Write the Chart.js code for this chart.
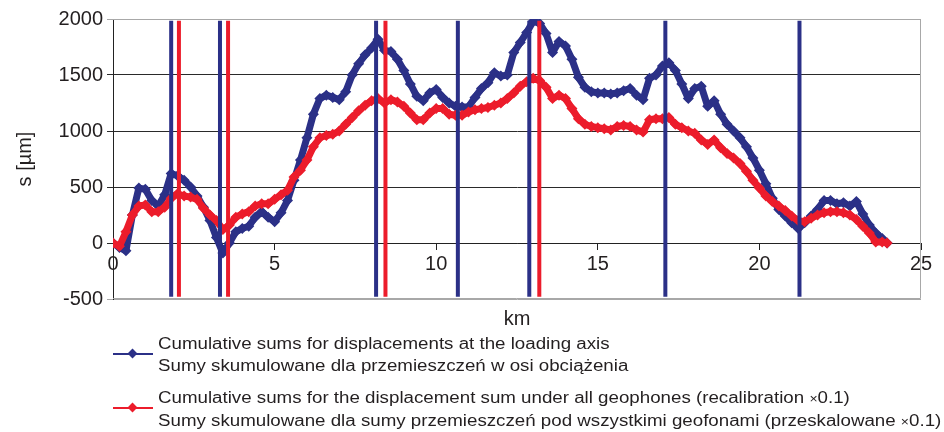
<!DOCTYPE html>
<html>
<head>
<meta charset="utf-8">
<script src="https://cdn.jsdelivr.net/npm/chart.js@4/dist/chart.umd.min.js"></script>
<style>
  html, body { margin: 0; padding: 0; background: #ffffff; }
  #wrap { position: relative; width: 944px; height: 432px; overflow: hidden; font-family: "Liberation Sans", Arial, sans-serif; color: #231f20; }
  #chart { position: absolute; left: 0; top: 0; }
  .xtitle { position: absolute; left: 113px; width: 808px; top: 306px; text-align: center; font-size: 20px; line-height: 24px; }
  .entry { position: absolute; left: 113px; }
  .entry .key { position: absolute; left: 0; width: 40px; height: 2px; }
  .entry .key i { position: absolute; left: 16px; top: -3px; width: 7px; height: 7px; transform: rotate(45deg); }
  .entry .txt { position: absolute; left: 45px; top: 0; white-space: nowrap; font-size: 16px; line-height: 22px; transform: scaleX(1.17); transform-origin: 0 0; }
  .times { font-size: 12px; }
</style>
</head>
<body>
<div id="wrap">
  <canvas id="chart" width="944" height="432"></canvas>
  <div class="xtitle">km</div>
  <div class="entry" style="top:333px">
    <div class="key" style="top:20px;background:#2b3087"><i style="background:#2b3087"></i></div>
    <div class="txt">Cumulative sums for displacements at the loading axis<br>Sumy skumulowane dla przemieszczeń w osi obciążenia</div>
  </div>
  <div class="entry" style="top:387px">
    <div class="key" style="top:20px;background:#ec1c2b"><i style="background:#ec1c2b"></i></div>
    <div class="txt">Cumulative sums for the displacement sum under all geophones (recalibration <span class="times">×</span>0.1)<br>Sumy skumulowane dla sumy przemieszczeń pod wszystkimi geofonami (przeskalowane <span class="times">×</span>0.1)</div>
  </div>
</div>
<script>
// Chainage along the road section [km]
const KM = [
  0.0, 0.2, 0.4, 0.6, 0.8, 1.0, 1.2, 1.4, 1.6, 1.8,
  2.0, 2.2, 2.4, 2.6, 2.8, 3.0, 3.2, 3.4, 3.6, 3.8,
  4.0, 4.2, 4.4, 4.6, 4.8, 5.0, 5.2, 5.4, 5.6, 5.8,
  6.0, 6.2, 6.4, 6.6, 6.8, 7.0, 7.2, 7.4, 7.6, 7.8,
  8.0, 8.2, 8.4, 8.6, 8.8, 9.0, 9.2, 9.4, 9.6, 9.8,
  10.0, 10.2, 10.4, 10.6, 10.8, 11.0, 11.2, 11.4, 11.6, 11.8,
  12.0, 12.2, 12.4, 12.6, 12.8, 13.0, 13.2, 13.4, 13.6, 13.8,
  14.0, 14.2, 14.4, 14.6, 14.8, 15.0, 15.2, 15.4, 15.6, 15.8,
  16.0, 16.2, 16.4, 16.6, 16.8, 17.0, 17.2, 17.4, 17.6, 17.8,
  18.0, 18.2, 18.4, 18.6, 18.8, 19.0, 19.2, 19.4, 19.6, 19.8,
  20.0, 20.2, 20.4, 20.6, 20.8, 21.0, 21.2, 21.4, 21.6, 21.8,
  22.0, 22.2, 22.4, 22.6, 22.8, 23.0, 23.2, 23.4, 23.6, 23.8,
  23.95
];

// Cumulative sums at the loading axis [µm]
const S_LOADING_AXIS = [
  0, -40, -70, 250, 490, 480, 380, 330, 430, 620,
  600, 560, 500, 420, 320, 200, 50, -90, 0, 100,
  130, 150, 230, 280, 230, 190, 270, 380, 560, 740,
  940, 1150, 1290, 1320, 1300, 1280, 1350, 1500, 1600, 1680,
  1740, 1820, 1720, 1710, 1640, 1540, 1420, 1310, 1270, 1340,
  1370, 1300, 1250, 1220, 1215, 1215, 1300, 1380, 1430, 1520,
  1490, 1500, 1700, 1790, 1880, 1980, 1960, 1870, 1700, 1800,
  1760, 1640, 1480, 1390, 1350, 1340, 1340, 1330, 1340, 1360,
  1380, 1320, 1280, 1470, 1500, 1580, 1610, 1540, 1420, 1290,
  1380, 1400, 1220, 1270, 1150, 1060, 1000, 940, 860, 760,
  650, 530, 400, 300, 240, 180, 130, 180, 240, 300,
  380, 380, 350, 360, 330, 370, 260, 160, 90, 40,
  0
];

// Cumulative sums of the displacement sum under all geophones, x0.1 [µm]
const S_ALL_GEOPHONES = [
  0, -30, 100, 250, 330, 340, 280, 280, 320, 400,
  440, 420, 410, 390, 310, 250, 200, 120, 160, 230,
  260, 280, 330, 350, 350, 390, 430, 470, 590, 650,
  740, 860, 940, 960, 970, 1000, 1060, 1120, 1180, 1230,
  1270, 1290, 1250, 1280, 1260, 1220, 1160, 1100, 1100, 1160,
  1200, 1200, 1150, 1140, 1140, 1170, 1190, 1200, 1210, 1230,
  1250, 1290, 1340, 1400, 1440, 1470, 1450, 1390, 1290, 1320,
  1290, 1200, 1110, 1060, 1040, 1030, 1020, 1010, 1040, 1050,
  1040, 1010, 990, 1100, 1110, 1110, 1120, 1060, 1030, 1000,
  980, 920, 880, 920, 850, 800, 760, 710, 640, 560,
  490, 420, 370, 330, 290, 240, 200, 190, 220, 250,
  270, 280, 280, 270, 250, 210, 150, 90, 10, 10,
  0
];

// Homogeneous section boundaries [km]
const BOUNDARIES_LOADING_AXIS = [1.80, 3.31, 8.14, 10.67, 12.88, 17.09, 21.24];
const BOUNDARIES_ALL_GEOPHONES = [2.04, 3.56, 8.43, 13.19];

const Y_TICKS = [-500, 0, 500, 1000, 1500, 2000];
const X_TICKS = [0, 5, 10, 15, 20, 25];

const NAVY = '#2b3087';
const RED = '#ec1c2b';
const FONT = '"Liberation Sans", Arial, sans-serif';

const toPoints = (xs, ys) => xs.map((x, i) => ({ x: x, y: ys[i] }));

function boundaryDatasets(list, color) {
  return list.map(k => ({
    data: [{ x: k, y: -480 }, { x: k, y: 1985 }],
    borderColor: color,
    borderWidth: 4,
    pointRadius: 0,
    order: 0
  }));
}

function profileDataset(label, ys, color, order) {
  return {
    label: label,
    data: toPoints(KM, ys),
    borderColor: color,
    backgroundColor: color,
    borderWidth: 7,
    borderJoinStyle: 'round',
    borderCapStyle: 'round',
    pointStyle: 'rectRot',
    pointRadius: 5.5,
    pointBorderWidth: 0,
    order: order
  };
}

// Light frame around the plotting area (top, right, bottom edges)
const frame = {
  id: 'frame',
  beforeDatasetsDraw(chart) {
    const a = chart.chartArea, c = chart.ctx;
    c.save();
    c.strokeStyle = '#a8a8a8';
    c.lineWidth = 1;
    c.beginPath();
    c.moveTo(a.left, a.top + 0.5);
    c.lineTo(a.right - 0.5, a.top + 0.5);
    c.lineTo(a.right - 0.5, a.bottom - 0.5);
    c.lineTo(a.left, a.bottom - 0.5);
    c.stroke();
    c.restore();
  }
};

new Chart(document.getElementById('chart'), {
  type: 'line',
  data: {
    datasets: [
      ...boundaryDatasets(BOUNDARIES_LOADING_AXIS, NAVY),
      ...boundaryDatasets(BOUNDARIES_ALL_GEOPHONES, RED),
      profileDataset('all geophones', S_ALL_GEOPHONES, RED, 1),
      profileDataset('loading axis', S_LOADING_AXIS, NAVY, 2)
    ]
  },
  options: {
    responsive: false,
    animation: false,
    layout: { padding: { left: 0, right: 23, top: 19, bottom: 133 } },
    plugins: { legend: { display: false }, tooltip: { enabled: false } },
    scales: {
      x: {
        type: 'linear',
        position: { y: 0 },
        min: 0,
        max: 25,
        afterBuildTicks: s => { s.ticks = X_TICKS.map(v => ({ value: v })); },
        ticks: { color: '#231f20', font: { family: FONT, size: 20 }, padding: 3, maxRotation: 0, callback: v => String(v) },
        grid: { drawOnChartArea: false, drawTicks: true, tickLength: 6, color: '#222' },
        border: { color: '#222', width: 1 }
      },
      y: {
        min: -500,
        max: 2000,
        afterBuildTicks: s => { s.ticks = Y_TICKS.map(v => ({ value: v })); },
        afterFit: s => { s.width = 113; },
        ticks: { color: '#231f20', font: { family: FONT, size: 20 }, padding: 4, callback: v => String(v) },
        grid: {
          color: c => (c.tick && (c.tick.value === 2000 || c.tick.value === -500)) ? '#a8a8a8' : '#2a2a2a',
          tickLength: 6,
          lineWidth: 1
        },
        border: { color: '#222', width: 1 },
        title: { display: true, text: 's [µm]', color: '#231f20', font: { family: FONT, size: 20 }, padding: { top: 13, bottom: 0 } }
      }
    }
  },
  plugins: [frame]
});
</script>
</body>
</html>
